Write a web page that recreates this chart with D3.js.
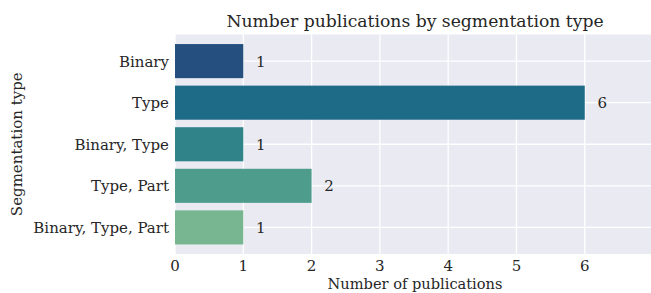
<!DOCTYPE html>
<html>
<head>
<meta charset="utf-8">
<script src="https://cdn.jsdelivr.net/npm/d3@7"></script>
<style>
  body { margin: 0; background: #fff; }
  text { fill: #262626; }
</style>
</head>
<body>
<script>
var categories = ['Binary', 'Type', 'Binary, Type', 'Type, Part', 'Binary, Type, Part'];
var counts = [1, 6, 1, 2, 1];
var barColors = ['#254f7f', '#1e6b88', '#2f8389', '#4e9d8c', '#77b690'];
var xTicks = [0, 1, 2, 3, 4, 5, 6];

var W = 651, H = 293;
var mLeft = 175, mRight = 651, mTop = 34.5, mBottom = 254;
var fs = 15;
var font = "'DejaVu Serif', 'Liberation Serif', 'Times New Roman', serif";

var svg = d3.select('body').append('svg')
    .attr('width', W)
    .attr('height', H)
    .style('font-family', font);

var x = d3.scaleLinear().domain([0, 6.97]).range([mLeft, mRight]);
// matplotlib style margins around bars
var y = d3.scaleLinear().domain([-0.64, categories.length - 1 + 0.64]).range([mTop, mBottom]);
var barH = 0.82;

svg.append('rect')
    .attr('x', mLeft).attr('y', mTop)
    .attr('width', mRight - mLeft).attr('height', mBottom - mTop)
    .attr('fill', '#eaeaf2');

// grid
svg.selectAll('.vgrid').data(xTicks).enter().append('line')
    .attr('x1', d => x(d)).attr('x2', d => x(d))
    .attr('y1', mTop).attr('y2', mBottom)
    .attr('stroke', '#fff').attr('stroke-width', 1.3);

svg.selectAll('.hgrid').data(categories).enter().append('line')
    .attr('x1', mLeft).attr('x2', mRight)
    .attr('y1', (d, i) => y(i)).attr('y2', (d, i) => y(i))
    .attr('stroke', '#fff').attr('stroke-width', 1.3);

// bars
svg.selectAll('.bar').data(counts).enter().append('rect')
    .attr('x', x(0))
    .attr('y', (d, i) => y(i - barH / 2))
    .attr('width', d => x(d) - x(0))
    .attr('height', y(barH) - y(0))
    .attr('fill', (d, i) => barColors[i]);

// value labels
svg.selectAll('.val').data(counts).enter().append('text')
    .attr('x', d => x(d) + 17.5)
    .attr('y', (d, i) => y(i) + 5.5)
    .attr('text-anchor', 'middle')
    .attr('font-size', fs)
    .text(d => d);

// y tick labels
svg.selectAll('.ylab').data(categories).enter().append('text')
    .attr('x', mLeft - 6)
    .attr('y', (d, i) => y(i) + 5.5)
    .attr('text-anchor', 'end')
    .attr('font-size', fs)
    .text(d => d);

// x tick labels
svg.selectAll('.xlab').data(xTicks).enter().append('text')
    .attr('x', d => x(d))
    .attr('y', 271)
    .attr('text-anchor', 'middle')
    .attr('font-size', fs)
    .text(d => d);

svg.append('text')
    .attr('x', (mLeft + mRight) / 2 + 2).attr('y', 289)
    .attr('text-anchor', 'middle')
    .attr('font-size', 14.6)
    .text('Number of publications');

svg.append('text')
    .attr('transform', 'translate(22,' + ((mTop + mBottom) / 2) + ') rotate(-90)')
    .attr('text-anchor', 'middle')
    .attr('font-size', fs)
    .text('Segmentation type');

svg.append('text')
    .attr('x', (mLeft + mRight) / 2 + 2).attr('y', 27)
    .attr('text-anchor', 'middle')
    .attr('font-size', 17.2)
    .text('Number publications by segmentation type');
</script>
</body>
</html>
